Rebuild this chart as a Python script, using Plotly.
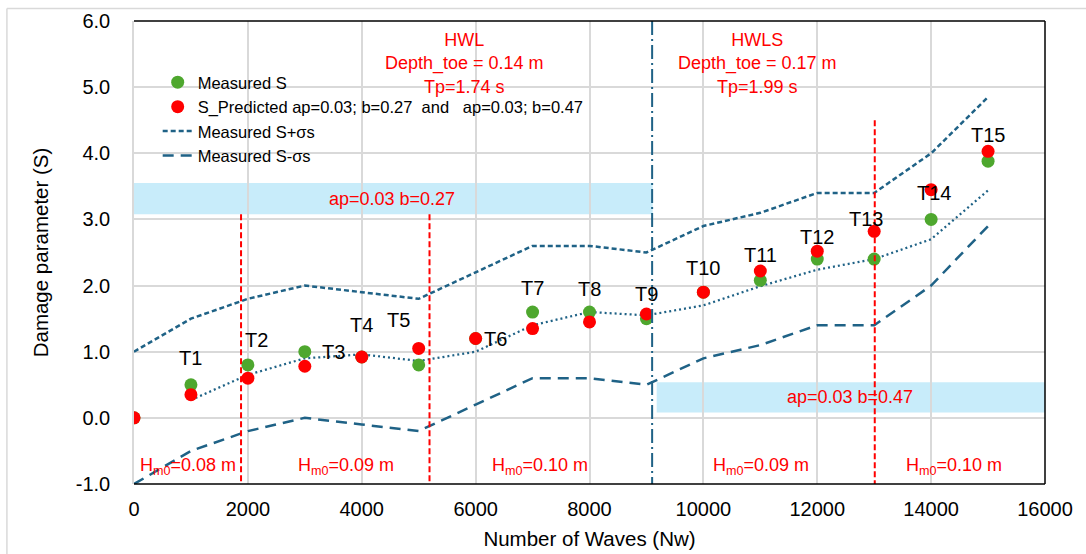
import plotly.graph_objects as go

# ---------------- data ----------------
nw = [0, 1000, 2000, 3000, 4000, 5000, 6000, 7000, 8000, 9000, 10000, 11000, 12000, 13000, 14000, 15000]
measured_s = [0.0, 0.5, 0.8, 1.0, 0.92, 0.8, 1.2, 1.6, 1.6, 1.5, 1.9, 2.08, 2.4, 2.4, 3.0, 3.88]
predicted_s = [0.0, 0.35, 0.6, 0.78, 0.92, 1.05, 1.2, 1.35, 1.45, 1.57, 1.9, 2.22, 2.52, 2.82, 3.45, 4.03]
s_plus_sigma = [1.0, 1.5, 1.8, 2.0, 1.9, 1.8, 2.2, 2.6, 2.6, 2.5, 2.9, 3.1, 3.4, 3.4, 4.0, 4.85]
s_minus_sigma = [-1.0, -0.5, -0.2, 0.0, -0.1, -0.2, 0.2, 0.6, 0.6, 0.5, 0.9, 1.1, 1.4, 1.4, 2.0, 2.9]
trend_nw = [1000, 2000, 3000, 4000, 5000, 6000, 7000, 8000, 9000, 10000, 11000, 12000, 13000, 14000, 15000]
trend_s = [0.27, 0.65, 0.9, 0.96, 0.86, 1.0, 1.4, 1.6, 1.55, 1.7, 1.99, 2.24, 2.4, 2.7, 3.44]

test_labels = ["T1", "T2", "T3", "T4", "T5", "T6", "T7", "T8", "T9", "T10", "T11", "T12", "T13", "T14", "T15"]
test_label_x = [1000, 2150, 3500, 4000, 4650, 6350, 7000, 8000, 9000, 10000, 11000, 12000, 12850, 14050, 15000]
test_label_y = [0.9, 1.18, 1.0, 1.4, 1.48, 1.19, 1.96, 1.95, 1.87, 2.26, 2.46, 2.74, 3.0, 3.4, 4.27]

hm0_labels = ["H<sub>m0</sub>=0.08 m", "H<sub>m0</sub>=0.09 m", "H<sub>m0</sub>=0.10 m",
              "H<sub>m0</sub>=0.09 m", "H<sub>m0</sub>=0.10 m"]
hm0_x = [950, 3720, 7130, 11010, 14400]

x_ticks = [0, 2000, 4000, 6000, 8000, 10000, 12000, 14000, 16000]
y_ticks = [-1.0, 0.0, 1.0, 2.0, 3.0, 4.0, 5.0, 6.0]

red_dividers = [1880, 5190, 13010]
red_divider_tops = [3.08, 3.08, 4.5]
hw_divider = 9100

BLUE = "#1F6286"
GREEN = "#4EA72E"
RED = "#FF0000"
BAND = "#C8ECFA"
FONT = "Liberation Sans, Arial, sans-serif"

fig = go.Figure()

fig.add_trace(go.Scatter(x=trend_nw, y=trend_s, mode="lines", showlegend=False,
                         line=dict(color=BLUE, width=2.25, dash="2px,3px")))
fig.add_trace(go.Scatter(x=nw, y=s_plus_sigma, mode="lines", name="Measured S+σs",
                         line=dict(color=BLUE, width=2.5, dash="5px,3px")))
fig.add_trace(go.Scatter(x=nw, y=s_minus_sigma, mode="lines", name="Measured S-σs",
                         line=dict(color=BLUE, width=2.5, dash="11px,7px")))
fig.add_trace(go.Scatter(x=nw, y=measured_s, mode="markers", name="Measured S",
                         marker=dict(color=GREEN, size=13)))
fig.add_trace(go.Scatter(x=nw, y=predicted_s, mode="markers",
                         name="S_Predicted ap=0.03; b=0.27  and   ap=0.03; b=0.47",
                         marker=dict(color=RED, size=13)))

# legend order: Measured S, S_Predicted, S+σ, S-σ
fig.data[3].legendrank = 1
fig.data[4].legendrank = 2
fig.data[1].legendrank = 3
fig.data[2].legendrank = 4

shapes = []
# blue bands
shapes.append(dict(type="rect", xref="x", yref="y", x0=0, x1=9110, y0=3.08, y1=3.55,
                   fillcolor=BAND, line=dict(width=0), layer="below"))
shapes.append(dict(type="rect", xref="x", yref="y", x0=9180, x1=16000, y0=0.08, y1=0.54,
                   fillcolor=BAND, line=dict(width=0), layer="below"))
# red dividers
for xv, top in zip(red_dividers, red_divider_tops):
    shapes.append(dict(type="line", xref="x", yref="y", x0=xv, x1=xv, y0=top, y1=-1.0,
                       line=dict(color=RED, width=2, dash="6px,3px")))
# HWL/HWLS divider
shapes.append(dict(type="line", xref="x", yref="y", x0=hw_divider, x1=hw_divider, y0=6.0, y1=-1.0,
                   line=dict(color=BLUE, width=2, dash="14px,4px,2px,4px")))
# outer chart border (left and top)
shapes.append(dict(type="line", xref="paper", yref="paper", x0=-0.1395, x1=-0.1395, y0=-0.2, y1=1.027,
                   line=dict(color="#D9D9D9", width=1.5)))
shapes.append(dict(type="line", xref="paper", yref="paper", x0=-0.1395, x1=1.05, y0=1.027, y1=1.027,
                   line=dict(color="#D9D9D9", width=1.5)))
# plot frame: top, right, bottom black
shapes.append(dict(type="line", xref="paper", yref="paper", x0=0, x1=1, y0=1, y1=1,
                   line=dict(color="black", width=1.5)))
shapes.append(dict(type="line", xref="paper", yref="paper", x0=1, x1=1, y0=0, y1=1,
                   line=dict(color="black", width=1.5)))
shapes.append(dict(type="line", xref="paper", yref="paper", x0=0, x1=1, y0=0, y1=0,
                   line=dict(color="black", width=1.5)))

annotations = []
for t, xv, yv in zip(test_labels, test_label_x, test_label_y):
    annotations.append(dict(x=xv, y=yv, text=t, showarrow=False,
                            font=dict(size=20, color="black", family=FONT)))
for t, xv in zip(hm0_labels, hm0_x):
    annotations.append(dict(x=xv, y=-0.73, text=t, showarrow=False,
                            font=dict(size=18, color=RED, family=FONT)))
annotations.append(dict(x=5813, y=5.36, text="HWL<br>Depth_toe = 0.14 m<br>Tp=1.74 s", showarrow=False,
                        font=dict(size=18, color=RED, family=FONT), align="center"))
annotations.append(dict(x=10950, y=5.36, text="HWLS<br>Depth_toe = 0.17 m<br>Tp=1.99 s", showarrow=False,
                        font=dict(size=18, color=RED, family=FONT), align="center"))
annotations.append(dict(x=4530, y=3.31, text="ap=0.03 b=0.27", showarrow=False,
                        font=dict(size=18, color=RED, family=FONT)))
annotations.append(dict(x=12575, y=0.31, text="ap=0.03 b=0.47", showarrow=False,
                        font=dict(size=18, color=RED, family=FONT)))

fig.update_layout(
    width=1086, height=554,
    margin=dict(l=134, r=41, t=21, b=70),
    paper_bgcolor="white", plot_bgcolor="white",
    font=dict(family=FONT, size=20, color="black"),
    shapes=shapes, annotations=annotations,
    showlegend=True,
    legend=dict(x=0.026, y=0.905, xanchor="left", yanchor="top",
                bgcolor="rgba(0,0,0,0)", font=dict(size=16.5, family=FONT),
                tracegroupgap=0, itemwidth=30),
    xaxis=dict(range=[0, 16000], tickvals=x_ticks, ticktext=[str(v) for v in x_ticks],
               showgrid=True, gridcolor="#D9D9D9", gridwidth=1.5, zeroline=False,
               showline=False, ticks="", ticklabelstandoff=11, automargin=False,
               tickfont=dict(size=20),
               title=dict(text="Number of Waves (Nw)", font=dict(size=20.5), standoff=12)),
    yaxis=dict(range=[-1, 6], tickvals=y_ticks, ticktext=[f"{v:.1f}" for v in y_ticks],
               showgrid=True, gridcolor="#D9D9D9", gridwidth=1.5, zeroline=False,
               showline=True, linecolor="#D9D9D9", linewidth=1.5, ticks="", ticklabelstandoff=18,
               automargin=False, tickfont=dict(size=20),
               title=dict(text="Damage parameter (S)", font=dict(size=20.5), standoff=22)),
)

fig.write_html("out.html")
